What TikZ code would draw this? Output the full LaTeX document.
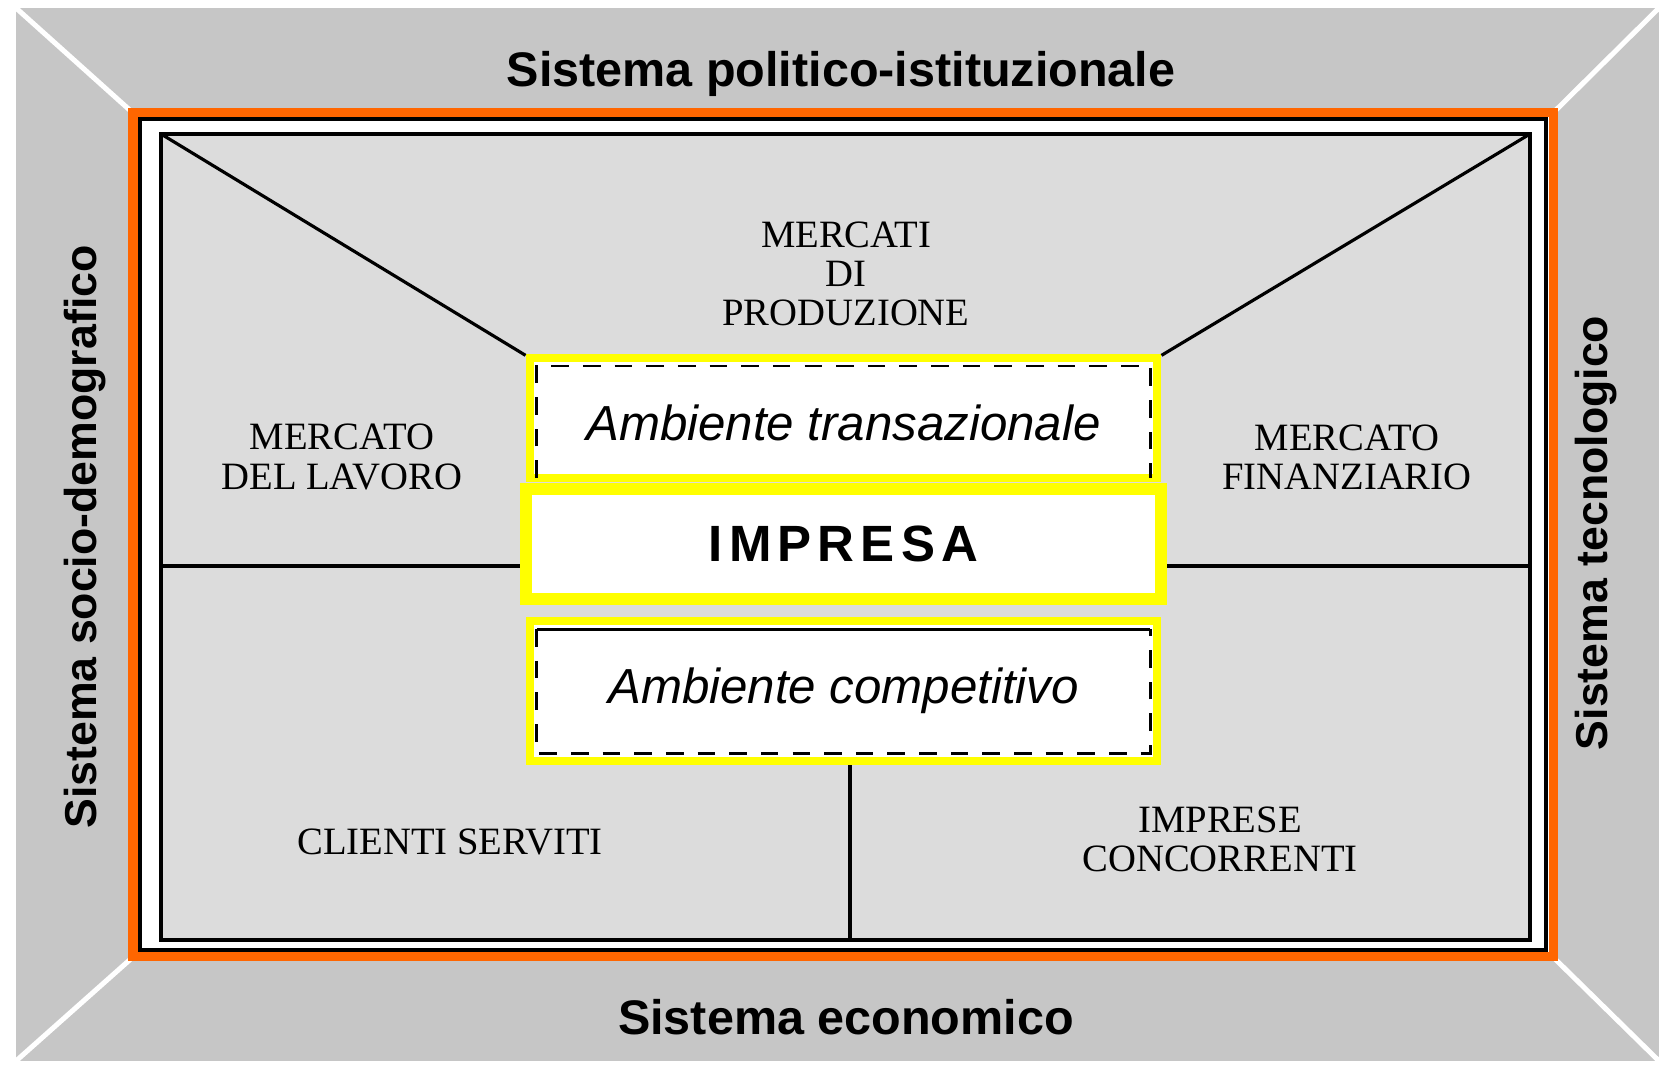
\documentclass[tikz,border=0pt]{standalone}
\usepackage{fontspec}
\setmainfont{Liberation Serif}
\setsansfont{Liberation Sans}
\usetikzlibrary{positioning}

\definecolor{framegray}{RGB}{198,198,198}
\definecolor{fieldgray}{RGB}{220,220,220}
\definecolor{frameorange}{RGB}{255,102,0}
\definecolor{boxyellow}{RGB}{255,255,0}

\begin{document}
\begin{tikzpicture}[x=0.01cm,y=-0.01cm,
    sistema/.style={font=\sffamily\bfseries\fontsize{13.8}{16}\selectfont},
    sistemaside/.style={rotate=90,font=\sffamily\bfseries\fontsize{12.7}{15}\selectfont},
    mercato/.style={align=center,font=\fontsize{11}{11.1}\selectfont},
    envbox/.style={draw=boxyellow,fill=white,line width=0.08cm,inner sep=0pt,outer sep=0pt,
      minimum width=6.27cm,font=\sffamily\itshape\fontsize{14}{16}\selectfont},
    dashline/.style={line width=0.8pt,dash pattern=on 5pt off 4pt},
    thinline/.style={line width=0.9pt}]
    \fill[white] (0,0) rectangle (1659,1071);
    \useasboundingbox (0,0) rectangle (1659,1071);

    % cornice grigia con le diagonali bianche
    \coordinate (g-nw) at (16,8);
    \coordinate (g-ne) at (1659,8);
    \coordinate (g-sw) at (16,1061);
    \coordinate (g-se) at (1659,1061);
    \coordinate (o-nw) at (133,113);
    \coordinate (o-ne) at (1553,113);
    \coordinate (o-sw) at (133,957);
    \coordinate (o-se) at (1553,957);
    \fill[framegray] (g-nw) rectangle (g-se);
    \draw[white,line width=0.05cm] (g-nw) -- (o-nw) (g-ne) -- (o-ne)
      (g-sw) -- (o-sw) (g-se) -- (o-se);
    \draw[frameorange,fill=white,line width=0.09cm] (o-nw) rectangle (o-se);
    \draw[thinline] (140,119) rectangle (1546,950);

    % campo interno
    \coordinate (f-nw) at (161,134);
    \coordinate (f-ne) at (1530,134);
    \coordinate (f-sw) at (161,940);
    \coordinate (f-se) at (1530,940);
    \coordinate (f-w) at (161,566);
    \coordinate (f-e) at (1530,566);
    \coordinate (f-s) at (850,940);
    \draw[thinline,fill=fieldgray] (f-nw) rectangle (f-se);

    % riquadri centrali
    \node[envbox,minimum height=1.2cm] (trans) at (843.5,418)
      {\raisebox{-1.5pt}[\height][\depth]{Ambiente transazionale}};
    \draw[dashline] (trans.south west) ++(7,0) -- ([shift={(7,8)}]trans.north west)
      -- ([shift={(-7,8)}]trans.north east) -- ([shift={(-7,0)}]trans.south east);
    \node[envbox,minimum height=1.1cm,minimum width=6.34cm,line width=0.12cm,
      font=\sffamily\bfseries\fontsize{14.5}{16}\selectfont\addfontfeature{LetterSpace=12}]
      (imp) [below=0.11cm of trans] {IMPRESA};
    \node[envbox,minimum height=1.4cm] (comp) [below=0.22cm of imp] {Ambiente competitivo};
    \draw[dashline] ([shift={(7,8)}]comp.north west) -- ([shift={(7,-8)}]comp.south west)
      -- ([shift={(-7,-8)}]comp.south east) -- ([shift={(-7,8)}]comp.north east);
    \draw[thinline] ([shift={(7,8)}]comp.north west) -- ([shift={(-7,8)}]comp.north east);

    % linee di separazione
    \draw[thinline,shorten >=0.05cm] (f-nw) -- (trans.north west);
    \draw[thinline,shorten >=0.05cm] (f-ne) -- (trans.north east);
    \draw[thinline,shorten >=0.06cm] (f-w) -- (f-w -| imp.west);
    \draw[thinline,shorten >=0.06cm] (f-e) -- (f-e -| imp.east);
    \draw[thinline,shorten <=0.04cm] (f-s |- comp.south) -- (f-s);

    % mercati
    \node[mercato] (prod) at (846,274) {MERCATI\\DI\\PRODUZIONE};
    \node[mercato] (lav) at (342,457) {MERCATO\\DEL LAVORO};
    \node[mercato] (fin) at (1347,457) {MERCATO\\FINANZIARIO};
    \node[mercato] (cli) at (450,842) {CLIENTI SERVITI};
    \node[mercato] (conc) at (1220,839) {IMPRESE\\CONCORRENTI};

    % sistemi
    \node[sistema] (pol) at (841,74) {Sistema politico-istituzionale};
    \node[sistema] (eco) at (846,1017) {Sistema economico};
    \node[sistemaside] (soc) at (85,537) {Sistema socio-demografico};
    \node[sistemaside] (tec) at (1596,533) {Sistema tecnologico};
\end{tikzpicture}
\end{document}
